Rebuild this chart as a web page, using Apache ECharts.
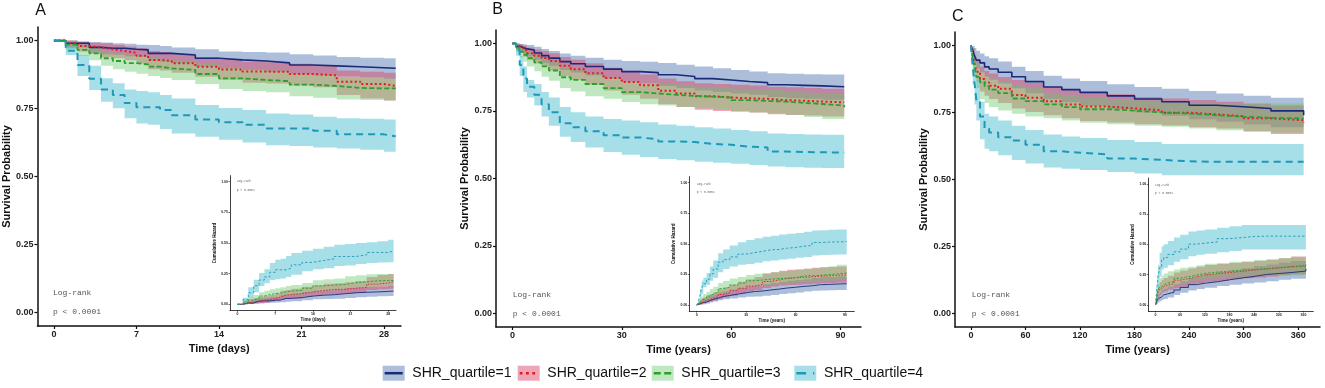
<!DOCTYPE html>
<html>
<head>
<meta charset="utf-8">
<script src="https://cdn.jsdelivr.net/npm/echarts@6/dist/echarts.min.js"></script>
<style>
  html, body { margin: 0; padding: 0; background: #fff; }
  #chart { width: 1325px; height: 388px; }
</style>
</head>
<body>
<div id="chart"></div>
<script>
// ---- data ----
var quartileNames = ['SHR_quartile=1', 'SHR_quartile=2', 'SHR_quartile=3', 'SHR_quartile=4'];
var yTicks = [0, 0.25, 0.5, 0.75, 1];

// panel A (days)
var timeA = [0, 1, 2, 3, 4, 5, 6, 7, 8, 9, 10, 12, 14, 16, 18, 20, 22, 24, 26, 28, 29];
var ticksA = [0, 7, 14, 21, 28];
var A_q1_surv = [1, .99, .99, .975, .972, .972, .968, .966, .953, .953, .947, .935, .929, .925, .918, .91, .907, .904, .9, .898, .898];
var A_q1_hi = [1, 1, .998, .995, .993, .99, .988, .985, .984, .98, .975, .968, .96, .958, .956, .95, .945, .94, .937, .935, .935];
var A_q1_lo = [1, .975, .975, .955, .95, .948, .942, .94, .925, .922, .917, .905, .897, .892, .885, .876, .872, .868, .864, .86, .86];
var A_q2_surv = [1, .99, .98, .975, .968, .962, .955, .944, .929, .925, .917, .904, .894, .886, .885, .877, .872, .849, .84, .833, .833];
var A_q2_hi = [1, 1, .995, .992, .99, .985, .978, .972, .962, .958, .952, .94, .93, .922, .92, .915, .91, .89, .885, .882, .882];
var A_q2_lo = [1, .972, .96, .952, .94, .935, .928, .915, .895, .89, .882, .867, .856, .845, .842, .835, .828, .8, .787, .78, .78];
var A_q3_surv = [1, .985, .966, .953, .935, .925, .917, .912, .904, .898, .892, .877, .861, .855, .851, .838, .833, .826, .824, .824, .824];
var A_q3_hi = [1, .998, .985, .975, .962, .955, .948, .944, .937, .932, .927, .914, .9, .895, .89, .878, .874, .866, .862, .861, .861];
var A_q3_lo = [1, .968, .943, .928, .907, .895, .885, .878, .87, .862, .855, .84, .822, .815, .81, .795, .79, .783, .781, .78, .78];
var A_q4_surv = [1, .963, .91, .86, .82, .8, .77, .755, .755, .745, .725, .71, .7, .69, .677, .677, .668, .655, .655, .648, .648];
var A_q4_hi = [1, .978, .947, .907, .861, .843, .82, .815, .81, .8, .787, .763, .752, .745, .732, .728, .72, .714, .712, .71, .71];
var A_q4_lo = [1, .947, .87, .818, .775, .751, .714, .695, .69, .675, .658, .646, .635, .625, .615, .612, .607, .603, .598, .591, .591];
// inset A: cumulative hazard
var A_q1_haz = [0, .01, .01, .025, .028, .028, .033, .035, .048, .048, .054, .067, .074, .078, .086, .094, .098, .101, .105, .108, .108];
var A_q1_hazHi = [0, .025, .025, .046, .051, .053, .06, .062, .078, .081, .087, .1, .109, .114, .122, .132, .137, .142, .146, .151, .151];
var A_q1_hazLo = [0, 0, .002, .005, .007, .01, .012, .015, .016, .02, .025, .033, .041, .043, .045, .051, .057, .062, .065, .067, .067];
var A_q2_haz = [0, .01, .02, .025, .033, .039, .046, .058, .074, .078, .087, .101, .112, .121, .122, .131, .137, .164, .174, .183, .183];
var A_q2_hazHi = [0, .028, .041, .049, .062, .067, .075, .089, .111, .117, .126, .143, .155, .168, .172, .18, .189, .223, .239, .248, .248];
var A_q2_hazLo = [0, 0, .005, .008, .01, .015, .022, .028, .039, .043, .049, .062, .073, .081, .083, .089, .094, .117, .122, .126, .126];
var A_q3_haz = [0, .015, .035, .048, .067, .078, .087, .092, .101, .108, .114, .131, .15, .157, .161, .177, .183, .191, .194, .194, .194];
var A_q3_hazHi = [0, .033, .059, .075, .098, .111, .122, .13, .139, .149, .157, .174, .196, .205, .211, .229, .236, .245, .247, .248, .248];
var A_q3_hazLo = [0, .002, .015, .025, .039, .046, .053, .058, .065, .07, .076, .09, .105, .111, .117, .13, .135, .144, .149, .15, .15];
var A_q4_haz = [0, .038, .094, .151, .198, .223, .261, .281, .281, .294, .322, .342, .357, .371, .39, .39, .403, .423, .423, .434, .434];
var A_q4_hazHi = [0, .054, .139, .201, .255, .286, .337, .364, .371, .393, .418, .437, .454, .47, .486, .491, .499, .506, .514, .526, .526];
var A_q4_hazLo = [0, .022, .054, .098, .15, .171, .198, .205, .211, .223, .24, .27, .285, .294, .312, .317, .329, .337, .34, .342, .342];

// panel B (years)
var timeB = [0, 1, 2, 3, 4, 6, 8, 10, 13, 16, 20, 25, 30, 35, 40, 45, 50, 55, 60, 65, 70, 75, 80, 85, 91];
var ticksB = [0, 30, 60, 90];
var B_q1_surv = [1, .99, .985, .98, .976, .965, .955, .946, .933, .925, .915, .905, .896, .892, .884, .878, .87, .865, .859, .855, .847, .845, .843, .84, .838];
var B_q1_hi = [1, 1, .998, .996, .994, .988, .98, .972, .963, .955, .947, .94, .935, .932, .928, .921, .915, .908, .902, .896, .89, .888, .886, .885, .884];
var B_q1_lo = [1, .975, .965, .958, .952, .94, .928, .918, .902, .893, .882, .87, .858, .853, .843, .835, .826, .82, .815, .81, .802, .798, .795, .792, .79];
var B_q2_surv = [1, .99, .983, .975, .964, .955, .946, .935, .918, .905, .89, .872, .857, .845, .825, .815, .805, .8, .797, .795, .79, .788, .785, .782, .781];
var B_q2_hi = [1, 1, .998, .993, .985, .978, .972, .964, .95, .94, .927, .91, .895, .885, .87, .86, .853, .85, .847, .844, .84, .838, .835, .832, .831];
var B_q2_lo = [1, .978, .965, .952, .938, .926, .915, .9, .88, .866, .847, .826, .81, .795, .775, .765, .755, .75, .748, .744, .738, .735, .733, .73, .729];
var B_q3_surv = [1, .985, .97, .958, .946, .93, .915, .9, .875, .865, .85, .835, .82, .815, .81, .806, .803, .8, .79, .787, .785, .78, .776, .77, .764];
var B_q3_hi = [1, .998, .99, .98, .97, .958, .945, .935, .915, .905, .89, .875, .86, .855, .85, .845, .84, .838, .832, .83, .828, .822, .818, .814, .81];
var B_q3_lo = [1, .968, .948, .932, .915, .897, .877, .862, .835, .822, .805, .795, .783, .775, .77, .765, .76, .755, .748, .744, .742, .735, .728, .72, .714];
var B_q4_surv = [1, .976, .92, .87, .84, .81, .775, .745, .705, .69, .675, .66, .652, .645, .637, .635, .628, .625, .618, .615, .6, .598, .597, .596, .596];
var B_q4_hi = [1, .995, .955, .915, .865, .85, .82, .8, .765, .745, .73, .72, .715, .708, .7, .695, .69, .685, .68, .675, .667, .665, .663, .662, .661];
var B_q4_lo = [1, .955, .88, .82, .8, .77, .73, .695, .655, .635, .615, .598, .588, .58, .572, .568, .562, .558, .555, .55, .544, .542, .54, .539, .538];
var B_q1_haz = [0, .01, .015, .02, .024, .036, .046, .056, .069, .078, .089, .1, .11, .114, .123, .13, .139, .145, .152, .157, .166, .168, .171, .174, .177];
var B_q1_hazHi = [0, .025, .036, .043, .049, .062, .075, .086, .103, .113, .126, .139, .153, .159, .171, .18, .191, .198, .205, .211, .221, .226, .229, .233, .236];
var B_q1_hazLo = [0, 0, .002, .004, .006, .012, .02, .028, .038, .046, .054, .062, .067, .07, .075, .082, .089, .097, .103, .11, .117, .119, .121, .122, .123];
var B_q2_haz = [0, .01, .017, .025, .037, .046, .056, .067, .086, .1, .117, .137, .154, .168, .192, .205, .217, .223, .227, .229, .236, .238, .242, .246, .247];
var B_q2_hazHi = [0, .022, .036, .049, .064, .077, .089, .105, .128, .144, .166, .191, .211, .229, .255, .268, .281, .288, .29, .296, .304, .308, .311, .315, .316];
var B_q2_hazLo = [0, 0, .002, .007, .015, .022, .028, .037, .051, .062, .076, .094, .111, .122, .139, .151, .159, .163, .166, .17, .174, .177, .18, .184, .185];
var B_q3_haz = [0, .015, .03, .043, .056, .073, .089, .105, .134, .145, .163, .18, .198, .205, .211, .216, .219, .223, .236, .24, .242, .248, .254, .261, .269];
var B_q3_hazHi = [0, .033, .053, .07, .089, .109, .131, .149, .18, .196, .217, .229, .245, .255, .261, .268, .274, .281, .29, .296, .298, .308, .317, .329, .337];
var B_q3_hazLo = [0, .002, .01, .02, .03, .043, .057, .067, .089, .1, .117, .134, .151, .157, .163, .168, .174, .177, .184, .186, .189, .196, .201, .206, .211];
var B_q4_haz = [0, .024, .083, .139, .174, .211, .255, .294, .35, .371, .393, .416, .428, .439, .451, .454, .465, .47, .481, .486, .511, .514, .516, .518, .518];
var B_q4_hazHi = [0, .046, .128, .198, .223, .261, .315, .364, .423, .454, .486, .514, .531, .545, .559, .566, .576, .583, .589, .598, .609, .612, .616, .618, .62];
var B_q4_hazLo = [0, .005, .046, .089, .145, .163, .198, .223, .268, .294, .315, .329, .335, .345, .357, .364, .371, .378, .386, .393, .405, .408, .411, .412, .414];

// panel C (years)
var timeC = [0, 2, 4, 6, 10, 15, 20, 30, 45, 60, 80, 100, 120, 150, 180, 210, 240, 270, 300, 330, 366];
var ticksC = [0, 60, 120, 180, 240, 300, 360];
var C_q1_surv = [1, .983, .96, .945, .935, .92, .912, .9, .883, .865, .845, .835, .825, .812, .8, .79, .777, .771, .765, .756, .74];
var C_q1_hi = [1, .998, .99, .98, .97, .96, .952, .94, .92, .905, .887, .877, .867, .855, .845, .838, .83, .821, .812, .805, .799];
var C_q1_lo = [1, .965, .935, .915, .9, .883, .872, .858, .84, .822, .8, .788, .775, .762, .75, .738, .725, .715, .705, .695, .684];
var C_q2_surv = [1, .964, .933, .902, .875, .862, .85, .838, .815, .805, .792, .78, .772, .765, .758, .749, .743, .736, .728, .721, .711];
var C_q2_hi = [1, .99, .965, .945, .92, .905, .895, .882, .871, .86, .846, .835, .825, .818, .808, .802, .796, .79, .782, .776, .771];
var C_q2_lo = [1, .935, .9, .865, .828, .812, .8, .785, .765, .752, .74, .728, .718, .713, .706, .701, .695, .69, .68, .67, .659];
var C_q3_surv = [1, .951, .92, .883, .862, .848, .835, .822, .802, .792, .78, .77, .762, .757, .75, .746, .74, .734, .73, .728, .728];
var C_q3_hi = [1, .985, .96, .935, .905, .89, .878, .865, .852, .84, .823, .815, .806, .8, .795, .79, .786, .784, .784, .784, .784];
var C_q3_lo = [1, .915, .88, .84, .8, .785, .77, .757, .745, .735, .728, .72, .712, .706, .7, .697, .69, .684, .678, .674, .672];
var C_q4_surv = [1, .92, .858, .796, .735, .69, .675, .658, .645, .63, .605, .6, .594, .578, .573, .568, .566, .566, .566, .566, .566];
var C_q4_hi = [1, .97, .91, .87, .79, .745, .735, .72, .7, .685, .668, .66, .655, .647, .64, .632, .632, .632, .632, .632, .632];
var C_q4_lo = [1, .855, .78, .72, .65, .615, .605, .59, .573, .56, .545, .54, .535, .528, .522, .516, .516, .516, .516, .516, .516];
var C_q1_haz = [0, .017, .041, .057, .067, .083, .092, .105, .124, .145, .168, .18, .192, .208, .223, .236, .252, .26, .268, .28, .301];
var C_q1_hazHi = [0, .036, .067, .089, .105, .124, .137, .153, .174, .196, .223, .238, .255, .272, .288, .304, .322, .335, .35, .364, .38];
var C_q1_hazLo = [0, .002, .01, .02, .03, .041, .049, .062, .083, .1, .12, .131, .143, .157, .168, .177, .186, .197, .208, .217, .224];
var C_q2_haz = [0, .037, .069, .103, .134, .149, .163, .177, .205, .217, .233, .248, .259, .268, .277, .289, .297, .306, .317, .327, .341];
var C_q2_hazHi = [0, .067, .105, .145, .189, .208, .223, .242, .268, .285, .301, .317, .331, .338, .348, .355, .364, .371, .386, .4, .417];
var C_q2_hazLo = [0, .01, .036, .057, .083, .1, .111, .126, .138, .151, .167, .18, .192, .201, .213, .221, .228, .236, .246, .254, .26];
var C_q3_haz = [0, .05, .083, .124, .149, .165, .18, .196, .221, .233, .248, .261, .272, .278, .288, .293, .301, .309, .315, .318, .318];
var C_q3_hazHi = [0, .089, .128, .174, .223, .242, .261, .278, .294, .308, .317, .329, .34, .348, .357, .361, .371, .38, .389, .394, .397];
var C_q3_hazLo = [0, .015, .041, .067, .1, .117, .13, .145, .16, .174, .195, .205, .216, .223, .229, .236, .241, .243, .243, .243, .243];
var C_q4_haz = [0, .083, .153, .228, .308, .371, .393, .418, .439, .462, .503, .511, .521, .548, .557, .566, .569, .569, .569, .569, .569];
var C_q4_hazHi = [0, .157, .248, .329, .431, .486, .503, .528, .557, .58, .607, .616, .625, .639, .65, .662, .662, .662, .662, .662, .662];
var C_q4_hazLo = [0, .03, .094, .139, .236, .294, .308, .329, .357, .378, .403, .416, .423, .435, .446, .459, .459, .459, .459, .459, .459];

// ---- styles ----
var FONT = 'Liberation Sans';
var lineColors = ['#1b2a7a', '#e8191e', '#2ca02c', '#1f97b8'];
var bandColors = ['rgba(74,111,174,0.45)', 'rgba(215,70,100,0.48)', 'rgba(105,200,105,0.42)', 'rgba(79,191,211,0.50)'];
var lineWidths = [1.6, 2, 1.8, 2];
var lineDash = ['solid', [2, 2.5], [5, 2.5], [7, 5]];
var insetDash = ['solid', [1.5, 1.5], [2.5, 1.5], [2.5, 2]];

var panels = [
  { key: 'A', time: timeA, ticks: ticksA, xmin: -1.4, xmax: 29.45, unit: 'Time (days)',
    surv: [A_q1_surv, A_q2_surv, A_q3_surv, A_q4_surv], lo: [A_q1_lo, A_q2_lo, A_q3_lo, A_q4_lo], hi: [A_q1_hi, A_q2_hi, A_q3_hi, A_q4_hi],
    haz: [A_q1_haz, A_q2_haz, A_q3_haz, A_q4_haz], hazLo: [A_q1_hazLo, A_q2_hazLo, A_q3_hazLo, A_q4_hazLo], hazHi: [A_q1_hazHi, A_q2_hazHi, A_q3_hazHi, A_q4_hazHi],
    grid: { left: 36, top: 27, width: 365, height: 299 }, inset: { left: 230, top: 175.6, width: 166, height: 134.8 },
    label: [40.7, 10.7], logrank: [53, 293], insetText: [236.7, 181.7] },
  { key: 'B', time: timeB, ticks: ticksB, xmin: -4.5, xmax: 95.6, unit: 'Time (years)',
    surv: [B_q1_surv, B_q2_surv, B_q3_surv, B_q4_surv], lo: [B_q1_lo, B_q2_lo, B_q3_lo, B_q4_lo], hi: [B_q1_hi, B_q2_hi, B_q3_hi, B_q4_hi],
    haz: [B_q1_haz, B_q2_haz, B_q3_haz, B_q4_haz], hazLo: [B_q1_hazLo, B_q2_hazLo, B_q3_hazLo, B_q4_hazLo], hazHi: [B_q1_hazHi, B_q2_hazHi, B_q3_hazHi, B_q4_hazHi],
    grid: { left: 496, top: 30, width: 365, height: 297 }, inset: { left: 689.3, top: 176.6, width: 165, height: 134.5 },
    label: [497.7, 10], logrank: [512.7, 295], insetText: [696.7, 184.3] },
  { key: 'C', time: timeC, ticks: ticksC, xmin: -17.5, xmax: 384, unit: 'Time (years)',
    surv: [C_q1_surv, C_q2_surv, C_q3_surv, C_q4_surv], lo: [C_q1_lo, C_q2_lo, C_q3_lo, C_q4_lo], hi: [C_q1_hi, C_q2_hi, C_q3_hi, C_q4_hi],
    haz: [C_q1_haz, C_q2_haz, C_q3_haz, C_q4_haz], hazLo: [C_q1_hazLo, C_q2_hazLo, C_q3_hazLo, C_q4_hazLo], hazHi: [C_q1_hazHi, C_q2_hazHi, C_q3_hazHi, C_q4_hazHi],
    grid: { left: 955, top: 32, width: 365, height: 295 }, inset: { left: 1148.3, top: 178, width: 165, height: 133 },
    label: [957.7, 16.7], logrank: [971.7, 295], insetText: [1155, 185] }
];

function zip(t, v) { return t.map(function (x, i) { return [x, v[i]]; }); }
function fmt2(v) { return v.toFixed(2); }

var grids = [], xAxes = [], yAxes = [], series = [], graphics = [];

function addAxes(gi, p, small) {
  var lw = small ? 0.8 : 1.5;
  var common = {
    gridIndex: gi, type: 'value', nameLocation: 'middle', splitLine: { show: false },
    axisLine: { onZero: false, lineStyle: { color: '#111', width: lw } },
    nameTextStyle: { fontFamily: FONT, fontWeight: 'bold', fontSize: small ? 4.5 : 11, color: '#111' }
  };
  xAxes.push(Object.assign({}, common, {
    min: p.xmin, max: p.xmax, name: p.unit, nameGap: small ? 6 : 15,
    axisTick: { customValues: p.ticks, length: small ? 1.5 : 3, lineStyle: { color: '#111', width: small ? 0.6 : 1.2 } },
    axisLabel: { customValues: p.ticks, fontFamily: FONT, fontSize: small ? 3.5 : 9, fontWeight: 'bold', color: '#222', margin: small ? 2 : 4 }
  }));
  yAxes.push(Object.assign({}, common, {
    min: -0.05, max: 1.05, name: small ? 'Cumulative Hazard' : 'Survival Probability', nameGap: small ? 11 : 25,
    axisTick: { customValues: yTicks, length: small ? 1.5 : 3, lineStyle: { color: '#111', width: small ? 0.6 : 1.2 } },
    axisLabel: { customValues: yTicks, formatter: fmt2, fontFamily: FONT, fontSize: small ? 3.5 : 9, fontWeight: 'bold', color: '#222', margin: small ? 2 : 4 }
  }));
}

// confidence band as one stepped polygon, placed through the axes' scales
function bandRenderer(time, lo, hi, color) {
  return function (params, api) {
    if (params.dataIndex !== 0) return null;
    var n = time.length, pts = [], i, tn;
    for (i = 0; i < n; i++) {
      tn = i < n - 1 ? time[i + 1] : time[i];
      pts.push(api.coord([time[i], hi[i]]));
      pts.push(api.coord([tn, hi[i]]));
    }
    for (i = n - 1; i >= 0; i--) {
      tn = i < n - 1 ? time[i + 1] : time[i];
      pts.push(api.coord([tn, lo[i]]));
      pts.push(api.coord([time[i], lo[i]]));
    }
    return { type: 'polygon', shape: { points: pts }, style: { fill: color }, silent: true };
  };
}

function addCurves(gi, time, curves, los, his, small) {
  for (var q = 0; q < 4; q++) {
    series.push({
      type: 'custom', xAxisIndex: gi, yAxisIndex: gi, z: 1, silent: true,
      renderItem: bandRenderer(time, los[q], his[q], bandColors[q]),
      encode: { x: 0, y: [1, 2] },
      data: time.map(function (t, i) { return [t, los[q][i], his[q][i]]; })
    });
  }
  for (var k = 0; k < 4; k++) {
    series.push({
      type: 'line', name: quartileNames[k], xAxisIndex: gi, yAxisIndex: gi, step: 'end', symbol: 'none', silent: true, z: 3,
      lineStyle: { color: lineColors[k], width: small ? 0.9 : lineWidths[k], type: small ? insetDash[k] : lineDash[k] },
      data: zip(time, curves[k])
    });
  }
}

panels.forEach(function (p, i) {
  var gMain = i * 2, gInset = i * 2 + 1;
  grids.push(p.grid);
  grids.push(p.inset);
  addAxes(gMain, p, false);
  addAxes(gInset, p, true);
  addCurves(gMain, p.time, p.surv, p.lo, p.hi, false);
  addCurves(gInset, p.time, p.haz, p.hazLo, p.hazHi, true);

  graphics.push({ type: 'text', x: p.label[0], y: p.label[1], style: { text: p.key, font: '16px ' + FONT, fill: '#111', align: 'center', verticalAlign: 'middle' } });
  graphics.push({ type: 'text', x: p.logrank[0], y: p.logrank[1], style: { text: 'Log-rank', font: '8px "Liberation Mono"', fill: '#555', verticalAlign: 'middle' } });
  graphics.push({ type: 'text', x: p.logrank[0], y: p.logrank[1] + 19, style: { text: 'p < 0.0001', font: '8px "Liberation Mono"', fill: '#555', verticalAlign: 'middle' } });
  graphics.push({ type: 'text', x: p.insetText[0], y: p.insetText[1], style: { text: 'Log-rank', font: '3px "Liberation Mono"', fill: '#666', verticalAlign: 'middle' } });
  graphics.push({ type: 'text', x: p.insetText[0], y: p.insetText[1] + 8.3, style: { text: 'p < 0.0001', font: '3px "Liberation Mono"', fill: '#666', verticalAlign: 'middle' } });
});

// legend at the bottom
var legendX = [382.7, 517.7, 651.7, 794.3];
quartileNames.forEach(function (name, q) {
  var x = legendX[q], y = 365.7;
  graphics.push({ type: 'rect', shape: { x: x, y: y, width: 22, height: 15 }, style: { fill: bandColors[q] } });
  graphics.push({ type: 'line', shape: { x1: x + 2, y1: y + 7.5, x2: x + 20, y2: y + 7.5 },
    style: { stroke: lineColors[q], lineWidth: 2.5, lineDash: lineDash[q] === 'solid' ? null : lineDash[q].map(function (d) { return d * 1.4; }) } });
  graphics.push({ type: 'text', x: x + 29.6, y: y + 7.5, style: { text: name, font: '14px ' + FONT, fill: '#111', verticalAlign: 'middle' } });
});

var chart = echarts.init(document.getElementById('chart'), null, { renderer: 'canvas' });
chart.setOption({
  animation: false,
  backgroundColor: '#fff',
  grid: grids,
  xAxis: xAxes,
  yAxis: yAxes,
  series: series,
  graphic: graphics
});
</script>
</body>
</html>
